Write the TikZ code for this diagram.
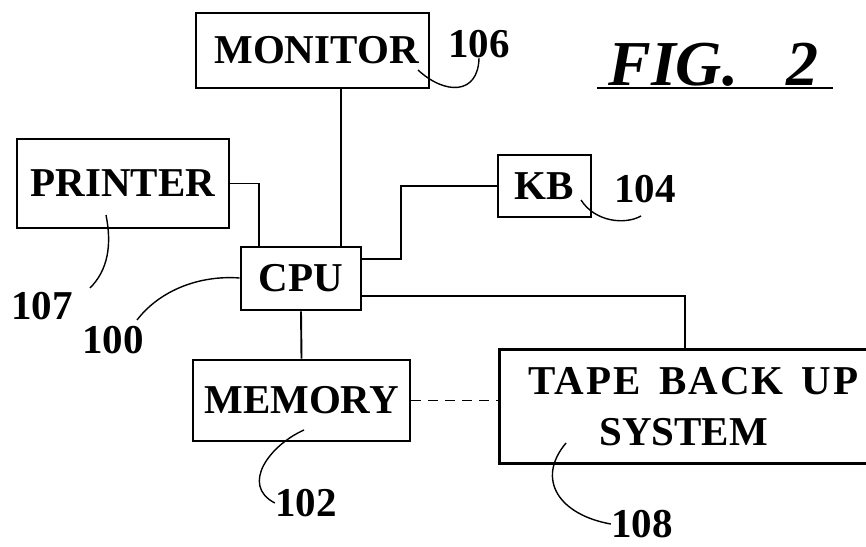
\documentclass[tikz,border=0pt]{standalone}
\usepackage{fontspec}
\setmainfont{Liberation Serif}
\newcommand\lblfont{\fontsize{20.5}{25.5}\selectfont\bfseries}
\newcommand\figfont{\fontsize{32}{36}\selectfont\bfseries\itshape}
\begin{document}
\begin{tikzpicture}[x=0.5pt,y=-0.5pt,
  box/.style={draw, line width=1.4pt, inner sep=0pt, font=\lblfont, align=center},
  conn/.style={line width=0.95pt},
  lead/.style={line width=0.7pt},
  num/.style={font=\lblfont, inner sep=0pt}]
\useasboundingbox (0,0) rectangle (866,546);
% boxes
\node[box, minimum width=116.5pt, minimum height=37.5pt] (monitor) at (312.5,50.5) {\hspace*{4pt}MONITOR};
\node[box, minimum width=106pt, minimum height=44.5pt] (printer) at (123,183.5) {PRINTER};
\node[box, minimum width=60pt, minimum height=31.5pt] (cpu) at (301,278.5) {CPU};
\node[box, minimum width=46.5pt, minimum height=31pt] (kb) at (544.5,186) {KB};
\node[box, minimum width=108.5pt, minimum height=40.5pt] (memory) at (301.5,400.5) {MEMORY};
\node[box, draw=none, minimum width=182.5pt, minimum height=55.5pt] (tape) at (683.5,406.5)
  {\hspace*{10pt}{\addfontfeatures{LetterSpace=5}TAPE\hspace{9pt}BACK\hspace{9pt}UP}\\SYSTEM};
\draw[line width=1.4pt] (tape.north east) -- (tape.north west) -- (tape.south west) -- (tape.south east);
% reference numbers
\node[num] (n106) at (479,44) {106};
\node[num] (n104) at (645,189) {104};
\node[num] (n107) at (42,306) {107};
\node[num] (n100) at (113,340) {100};
\node[num] (n102) at (306,503) {102};
\node[num] (n108) at (642,524) {108};
% title
\node[font=\figfont, anchor=base west, inner sep=0pt] (fig) at (608,85) {FIG.\hspace{24pt}2};
\draw[line width=1.1pt] (597,88) -- (833,88);
% junction coordinates
\coordinate (jm) at (341,0);
\coordinate (jp) at (259,0);
\coordinate (jk) at (401,259);
\coordinate (jt) at (685,296);
% connectors
\draw[conn] (monitor.south -| jm) -- (cpu.north -| jm);
\draw[conn] (printer.east) -| (cpu.north -| jp);
\draw[conn] (cpu.east |- jk) -- (jk) |- (kb.west);
\draw[conn] (cpu.east |- jt) -| (tape.north -| jt);
\draw[conn] (cpu.south) -- (memory.north);
\draw[conn, dash pattern=on 5pt off 3.5pt] (memory.east) -- (memory.east -| tape.west);
% leaders
\draw[lead] (418,70) .. controls (445,95) and (478,95) .. (n106.south);
\draw[lead] (581,200) .. controls (595,222) and (625,225) .. (641,216);
\draw[lead] (106,215) .. controls (112,245) and (108,270) .. (90,288);
\draw[lead] (137,320) .. controls (160,290) and (200,275) .. (cpu.west |- 0,278);
\draw[lead] (304,430) .. controls (270,445) and (240,485) .. (n102.west);
\draw[lead] (566,443) .. controls (535,480) and (560,515) .. (n108.west);
\end{tikzpicture}
\end{document}
